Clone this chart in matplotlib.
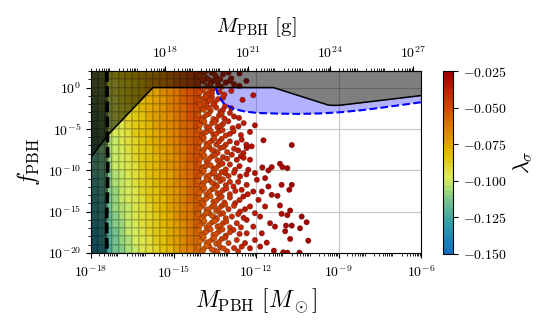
import numpy as np
import matplotlib.pyplot as plt
from matplotlib.colors import LinearSegmentedColormap, Normalize
from matplotlib.ticker import FuncFormatter, LogLocator, NullFormatter, FixedLocator

plt.rcParams['mathtext.fontset'] = 'cm'

# colour scale (lambda_sigma -> colour)
cmap_vals = [-0.150, -0.140, -0.130, -0.125, -0.115, -0.107, -0.100, -0.093, -0.087,
             -0.080, -0.075, -0.065, -0.055, -0.050, -0.040, -0.032, -0.025]
cmap_cols = ['#1470c0', '#1c88b4', '#30a0a8', '#48aaa0', '#70c090', '#a0d878', '#d4ee60',
             '#e0e040', '#e0cc18', '#e0b800', '#e0a400', '#dc8400', '#d46000', '#d04c00',
             '#c42c00', '#b41000', '#a00000']
cbar_ticks = [-0.150, -0.125, -0.100, -0.075, -0.050, -0.025]

# dense part of the cloud: lambda_sigma*1e3 per cell (rows from f=1e2 down to 1e-20)
core_logm_edges = [-18.0, -17.75, -17.5, -17.25, -17.0, -16.75, -16.5, -16.25, -16.0,
                   -15.75, -15.5, -15.25, -15.0, -14.75, -14.5, -14.25, -14.0]
core_logf_edges = [2, 1, 0, -1, -2, -3, -4, -5, -6, -7, -8, -9, -10, -11, -12, -13,
                   -14, -15, -16, -17, -18, -19, -20]
core_lam = [
    [-100, -97, -93, -90, -87, -84, -81, -78, -74, -70, -66, -62, -58, -54, -50, -46],
    [-102, -99, -94, -91, -88, -85, -82, -79, -75, -71, -67, -63, -59, -55, -51, -47],
    [-103, -100, -96, -92, -89, -86, -83, -80, -76, -72, -68, -64, -60, -55, -51, -47],
    [-105, -102, -97, -94, -90, -87, -84, -81, -77, -73, -69, -64, -60, -56, -52, -48],
    [-107, -103, -99, -95, -91, -88, -85, -81, -77, -73, -69, -65, -61, -57, -52, -48],
    [-108, -105, -100, -96, -92, -89, -86, -82, -78, -74, -70, -66, -62, -57, -53, -49],
    [-110, -106, -101, -97, -94, -90, -86, -83, -79, -75, -71, -67, -63, -58, -54, -49],
    [-112, -108, -103, -98, -95, -91, -87, -84, -80, -76, -72, -68, -63, -59, -54, -50],
    [-113, -110, -104, -100, -96, -92, -88, -85, -81, -77, -73, -68, -64, -59, -55, -51],
    [-115, -111, -105, -101, -97, -93, -89, -86, -82, -78, -74, -69, -65, -60, -56, -51],
    [-117, -113, -107, -102, -98, -94, -90, -87, -83, -79, -75, -70, -66, -61, -56, -52],
    [-118, -114, -108, -103, -99, -95, -91, -87, -83, -79, -75, -71, -66, -61, -57, -52],
    [-120, -116, -110, -104, -100, -96, -92, -88, -84, -80, -76, -72, -67, -62, -57, -53],
    [-122, -117, -111, -105, -101, -97, -93, -89, -85, -81, -77, -73, -68, -63, -58, -53],
    [-123, -119, -112, -107, -102, -98, -94, -90, -86, -82, -78, -73, -69, -63, -59, -54],
    [-125, -121, -114, -108, -103, -99, -95, -91, -87, -83, -79, -74, -69, -64, -59, -55],
    [-127, -122, -115, -109, -105, -100, -95, -92, -88, -84, -80, -75, -70, -65, -60, -55],
    [-128, -124, -116, -110, -106, -101, -96, -93, -89, -85, -81, -76, -71, -65, -61, -56],
    [-130, -125, -118, -111, -107, -102, -97, -93, -89, -85, -81, -77, -72, -66, -61, -56],
    [-132, -127, -119, -113, -108, -103, -98, -94, -90, -86, -82, -77, -72, -67, -62, -57],
    [-133, -128, -121, -114, -109, -104, -99, -95, -91, -87, -83, -78, -73, -67, -62, -57],
    [-135, -130, -122, -115, -110, -105, -100, -96, -92, -88, -84, -79, -74, -68, -63, -58],
]

# sparse points on the heavy side: (log10 M, log10 f, lambda_sigma*1e3)
fringe = [
    (-13.95, 1.7, -44), (-13.8, 1.2, -43), (-13.62, 1.8, -41), (-13.45, 1.3, -40), (-13.2, 1.6, -38),
    (-12.9, 1.1, -36), (-12.6, 1.7, -34),
    (-13.9, 0.7, -45), (-13.75, 0.2, -44), (-13.55, 0.8, -42), (-13.38, 0.35, -40), (-13.1, 0.6, -37),
    (-12.8, 0.4, -35), (-12.35, 0.8, -33),
    (-13.95, -0.3, -46), (-13.82, -0.8, -46), (-13.68, -0.45, -44), (-13.55, -0.15, -42), (-13.33, -0.53, -40),
    (-12.9, -0.4, -36), (-12.1, -0.93, -32),
    (-13.9, -1.3, -46), (-13.75, -1.7, -45), (-13.6, -1.2, -43), (-13.5, -1.8, -42), (-13.2, -1.25, -39),
    (-12.49, -1.49, -34),
    (-13.95, -2.5, -47), (-13.8, -2.2, -46), (-13.65, -2.8, -44), (-13.45, -2.4, -42), (-13.3, -2.9, -41),
    (-13.13, -2.26, -39),
    (-13.9, -3.6, -47), (-13.72, -3.2, -45), (-13.55, -3.8, -44), (-13.35, -3.4, -42), (-12.95, -3.07, -38),
    (-12.62, -3.68, -35), (-13.15, -3.75, -40),
    (-13.95, -4.2, -48), (-13.8, -4.7, -47), (-13.6, -4.3, -45), (-13.4, -4.8, -43), (-13.2, -4.4, -41),
    (-13.01, -4.08, -39), (-12.64, -4.69, -36), (-12.04, -4.57, -32), (-12.85, -4.9, -38),
    (-13.9, -5.5, -48), (-13.75, -5.1, -47), (-13.55, -5.7, -45), (-13.35, -5.3, -43), (-13.1, -5.8, -41),
    (-12.82, -5.29, -38), (-12.22, -5.37, -33), (-12.55, -5.75, -36),
    (-13.95, -6.3, -49), (-13.8, -6.8, -48), (-13.6, -6.4, -46), (-13.45, -6.9, -44), (-13.25, -6.2, -42),
    (-12.95, -6.5, -39), (-12.7, -6.71, -37), (-12.52, -6.3, -35), (-11.73, -6.38, -31), (-10.7, -6.95, -28),
    (-13.9, -7.5, -49), (-13.7, -7.2, -47), (-13.5, -7.7, -45), (-13.3, -7.3, -43), (-13.05, -7.8, -41),
    (-12.8, -7.4, -38), (-12.46, -7.92, -35), (-12.34, -7.31, -34), (-12.16, -7.11, -33),
    (-13.95, -8.4, -50), (-13.8, -8.9, -49), (-13.6, -8.3, -47), (-13.4, -8.8, -45), (-13.2, -8.4, -43),
    (-12.88, -8.12, -39), (-12.7, -8.73, -37), (-12.22, -8.73, -34), (-12.55, -8.3, -36),
    (-13.9, -9.6, -50), (-13.75, -9.2, -49), (-13.55, -9.8, -47), (-13.35, -9.4, -45), (-13.1, -9.9, -42),
    (-12.95, -9.3, -40), (-12.76, -9.94, -38), (-12.28, -9.94, -34), (-11.77, -9.66, -31), (-11.43, -9.62, -30),
    (-11.13, -9.21, -29), (-11.04, -9.62, -29), (-10.86, -9.74, -28),
    (-13.95, -10.3, -51), (-13.8, -10.8, -50), (-13.6, -10.4, -48), (-13.45, -10.9, -46), (-13.25, -10.2, -44),
    (-13.0, -10.7, -41), (-12.8, -10.3, -39), (-12.58, -10.75, -37), (-12.04, -10.34, -33), (-11.55, -10.02, -30),
    (-11.67, -10.95, -31),
    (-13.9, -11.5, -51), (-13.7, -11.2, -49), (-13.5, -11.7, -47), (-13.3, -11.3, -45), (-13.1, -11.8, -43),
    (-12.82, -11.96, -39), (-12.65, -11.4, -38), (-12.34, -11.76, -35), (-11.97, -11.15, -33), (-11.55, -11.96, -30),
    (-11.07, -11.76, -29), (-10.7, -11.76, -28),
    (-13.95, -12.4, -52), (-13.8, -12.9, -51), (-13.6, -12.3, -49), (-13.4, -12.8, -47), (-13.2, -12.4, -45),
    (-12.95, -12.9, -42), (-12.75, -12.5, -40), (-12.52, -12.36, -37), (-12.1, -12.57, -34), (-11.79, -12.57, -32),
    (-10.79, -12.36, -28), (-11.43, -12.97, -30),
    (-13.9, -13.6, -52), (-13.75, -13.2, -51), (-13.55, -13.8, -49), (-13.35, -13.4, -47), (-13.15, -13.9, -45),
    (-12.95, -13.3, -43), (-12.76, -13.98, -40), (-12.46, -13.17, -37), (-11.91, -13.58, -33), (-11.22, -13.09, -30),
    (-13.95, -14.3, -53), (-13.8, -14.8, -52), (-13.6, -14.4, -50), (-13.45, -14.9, -48), (-13.25, -14.3, -46),
    (-13.0, -14.7, -43), (-12.8, -14.3, -41), (-12.58, -14.99, -38), (-12.22, -14.38, -35), (-11.67, -14.38, -32),
    (-11.13, -14.26, -30), (-10.76, -14.87, -28),
    (-13.9, -15.5, -53), (-13.7, -15.2, -51), (-13.5, -15.7, -49), (-13.3, -15.3, -47), (-13.1, -15.8, -45),
    (-12.88, -15.6, -42), (-12.65, -15.3, -40), (-12.04, -15.19, -35), (-11.85, -15.6, -33), (-11.07, -15.27, -30),
    (-10.86, -15.43, -29), (-10.34, -15.6, -28),
    (-13.95, -16.4, -54), (-13.8, -16.9, -53), (-13.6, -16.3, -51), (-13.4, -16.8, -49), (-13.2, -16.4, -47),
    (-12.95, -16.9, -44), (-12.7, -16.4, -41), (-12.34, -16.0, -37), (-12.1, -16.81, -36), (-11.49, -16.4, -32),
    (-11.31, -16.81, -31), (-10.91, -16.69, -29), (-10.7, -16.69, -28), (-10.16, -16.28, -27),
    (-13.9, -17.6, -54), (-13.75, -17.2, -53), (-13.55, -17.8, -51), (-13.35, -17.4, -49), (-13.1, -17.9, -46),
    (-12.82, -17.21, -42), (-12.6, -17.7, -40), (-12.34, -17.62, -38), (-11.79, -17.62, -33), (-10.94, -17.37, -29),
    (-10.4, -17.01, -28),
    (-13.95, -18.3, -55), (-13.8, -18.8, -54), (-13.6, -18.4, -52), (-13.45, -18.9, -50), (-13.25, -18.3, -48),
    (-13.0, -18.8, -45), (-12.7, -18.43, -41), (-12.04, -18.43, -35), (-11.61, -18.75, -32), (-10.76, -18.3, -28),
    (-10.1, -18.51, -27),
    (-13.9, -19.5, -55), (-13.7, -19.2, -53), (-13.5, -19.7, -51), (-13.3, -19.3, -49), (-13.05, -19.8, -46),
    (-12.8, -19.4, -43), (-12.52, -19.23, -39), (-12.22, -19.43, -37), (-11.85, -19.23, -34), (-11.35, -19.72, -31),
    (-11.01, -19.92, -29), (-10.86, -19.96, -29), (-10.42, -19.96, -28),
]

# further points packed just right of the dense block
fringe_inner = [
    (-14.05, 1.4, -47), (-13.85, 1.9, -45), (-13.7, 0.95, -43), (-13.5, 1.55, -41), (-13.3, 1.0, -39), (-13.0, 1.8, -37),
    (-14.1, 0.3, -48), (-13.95, 0.95, -46), (-13.65, 0.45, -43), (-13.47, 0.9, -41), (-13.25, 0.1, -39),
    (-12.95, 0.8, -36), (-12.6, 0.2, -34),
    (-14.05, -0.6, -48), (-13.88, -0.1, -47), (-13.75, -0.95, -45), (-13.6, -0.7, -43), (-13.15, -0.85, -38),
    (-14.08, -1.5, -49), (-13.93, -1.9, -47), (-13.83, -1.1, -46), (-13.68, -1.55, -44), (-13.38, -1.4, -41),
    (-14.05, -2.1, -49), (-13.9, -2.7, -48), (-13.72, -2.45, -45), (-13.55, -2.1, -43), (-13.2, -2.7, -40),
    (-12.9, -2.5, -37),
    (-14.1, -3.3, -50), (-13.95, -3.9, -48), (-13.8, -3.3, -46), (-13.45, -3.95, -43), (-13.25, -3.2, -41),
    (-12.8, -3.5, -37),
    (-14.05, -4.6, -50), (-13.88, -4.1, -48), (-13.7, -4.85, -46), (-13.5, -4.2, -44), (-13.3, -4.65, -42),
    (-12.45, -4.3, -35),
    (-14.08, -5.2, -51), (-13.95, -5.85, -49), (-13.82, -5.4, -48), (-13.65, -5.25, -46), (-13.45, -5.6, -44),
    (-13.22, -5.15, -42), (-12.95, -5.6, -39),
    (-14.05, -6.6, -51), (-13.9, -6.1, -49), (-13.7, -6.7, -47), (-13.52, -6.15, -45), (-13.35, -6.55, -43),
    (-13.1, -6.9, -41), (-12.35, -6.9, -34),
    (-14.1, -7.3, -52), (-13.95, -7.9, -50), (-13.8, -7.1, -48), (-13.6, -7.55, -46), (-13.4, -7.9, -44),
    (-13.18, -7.2, -42), (-12.65, -7.6, -37),
    (-14.05, -8.7, -52), (-13.88, -8.2, -50), (-13.7, -8.6, -48), (-13.5, -8.2, -46), (-13.3, -8.9, -44),
    (-13.05, -8.6, -41), (-12.45, -8.5, -35),
    (-14.08, -9.3, -53), (-13.95, -9.9, -51), (-13.82, -9.5, -49), (-13.65, -9.4, -48), (-13.45, -9.75, -46),
    (-13.22, -9.2, -43), (-12.6, -9.5, -37),
    (-14.05, -10.6, -53), (-13.9, -10.1, -51), (-13.72, -10.65, -49), (-13.52, -10.3, -47), (-13.35, -10.7, -45),
    (-13.12, -10.35, -42), (-12.35, -10.5, -35),
    (-14.1, -11.3, -54), (-13.95, -11.85, -52), (-13.8, -11.15, -50), (-13.6, -11.5, -48), (-13.42, -11.9, -46),
    (-13.2, -11.1, -44), (-12.95, -11.4, -41),
    (-14.05, -12.7, -54), (-13.88, -12.15, -52), (-13.7, -12.6, -50), (-13.5, -12.2, -48), (-13.3, -12.75, -46),
    (-13.08, -12.2, -43), (-12.3, -12.9, -35),
    (-14.08, -13.35, -55), (-13.95, -13.9, -53), (-13.82, -13.45, -51), (-13.65, -13.15, -50), (-13.45, -13.7, -48),
    (-13.25, -13.2, -46), (-12.6, -13.6, -39),
    (-14.05, -14.6, -55), (-13.9, -14.1, -53), (-13.72, -14.7, -51), (-13.52, -14.25, -49), (-13.35, -14.65, -47),
    (-13.12, -14.15, -44), (-12.4, -14.7, -36),
    (-14.1, -15.3, -56), (-13.95, -15.85, -54), (-13.8, -15.15, -52), (-13.6, -15.5, -50), (-13.42, -15.9, -48),
    (-13.2, -15.2, -46), (-12.45, -15.75, -37),
    (-14.05, -16.7, -56), (-13.88, -16.15, -54), (-13.7, -16.6, -52), (-13.5, -16.15, -50), (-13.3, -16.7, -48),
    (-13.08, -16.2, -45), (-12.55, -16.9, -39),
    (-14.08, -17.3, -57), (-13.95, -17.85, -55), (-13.82, -17.45, -53), (-13.65, -17.15, -52), (-13.45, -17.7, -50),
    (-13.22, -17.15, -47), (-12.95, -17.5, -44),
    (-14.05, -18.6, -57), (-13.9, -18.1, -55), (-13.72, -18.65, -53), (-13.52, -18.2, -51), (-13.35, -18.7, -49),
    (-13.12, -18.15, -46), (-12.4, -18.8, -37),
    (-14.1, -19.3, -58), (-13.95, -19.85, -56), (-13.8, -19.15, -54), (-13.6, -19.6, -52), (-13.4, -19.9, -50),
    (-13.18, -19.45, -47), (-12.65, -19.8, -41),
]

# constraint curves (log10 M, log10 f)
bound_logm = [-18.0, -17.38, -15.75, -11.37, -9.37, -9.15, -8.95, -6.0]
bound_logf = [-8.4, -5.7, 0.0, 0.0, -2.12, -2.16, -2.14, -0.97]
blue_logm = [-13.45, -13.42, -13.37, -13.19, -12.82, -12.4, -11.97, -11.2, -10.4, -9.6, -8.95, -8.2, -7.49, -6.0]
blue_logf = [0.0, -0.5, -0.97, -1.86, -2.59, -2.9, -3.07, -3.15, -3.19, -3.12, -2.99, -2.75, -2.46, -1.78]
dash_logm = [-17.42, -17.41, -17.39, -17.40, -17.43, -17.42]
dash_logf = [2.0, -4.0, -9.0, -12.0, -16.0, -20.0]

MSUN_G = 1.989e33

pos = [(v - cmap_vals[0]) / (cmap_vals[-1] - cmap_vals[0]) for v in cmap_vals]
cmap = LinearSegmentedColormap.from_list('lam', list(zip(pos, cmap_cols)), N=40)
norm = Normalize(vmin=-0.150, vmax=-0.025)

fig = plt.figure(figsize=(5.48, 3.29), dpi=100)
ax = fig.add_axes([0.1661, 0.231, 0.6022, 0.5532])
cax = fig.add_axes([0.8084, 0.228, 0.0182, 0.556])

ax.set_xscale('log')
ax.set_yscale('log')
ax.grid(True, which='major', color='#c8c8c8', lw=0.8, zorder=0)
ax.set_axisbelow(True)

mesh = ax.pcolormesh(10.0**np.array(core_logm_edges), 10.0**np.array(core_logf_edges),
                     np.array(core_lam) / 1000.0, cmap=cmap, norm=norm,
                     edgecolors=(0, 0, 0, 0.13), linewidth=0.3, zorder=1)

fr = np.array(fringe + fringe_inner)
ax.scatter(10.0**fr[:, 0], 10.0**fr[:, 1], c=fr[:, 2] / 1000.0, cmap=cmap, norm=norm,
           s=16, edgecolors=(0, 0, 0, 0.45), linewidths=0.3, zorder=2)

# blue region between the dashed blue curve and the black curve
bm = np.array(bound_logm)
bf = np.array(bound_logf)
keep = bm > blue_logm[0]
top_start = np.interp(blue_logm[0], bm, bf)
poly_m = list(blue_logm) + list(bm[keep][::-1]) + [blue_logm[0]]
poly_f = list(blue_logf) + list(bf[keep][::-1]) + [top_start]
ax.fill(10.0**np.array(poly_m), 10.0**np.array(poly_f), color='blue', alpha=0.3, lw=0, zorder=1.5)
ax.plot(10.0**np.array(blue_logm), 10.0**np.array(blue_logf), color='blue', ls='--', lw=1.5, zorder=4)

# excluded regions
ax.fill_between(10.0**bm, 10.0**bf, 1e3, color='k', alpha=0.5, lw=0, zorder=3)
ax.plot(10.0**bm, 10.0**bf, color='k', lw=1.1, zorder=4)
ax.fill_betweenx(10.0**np.array(dash_logf), 1e-18, 10.0**np.array(dash_logm),
                 color='k', alpha=0.5, lw=0, zorder=3)
ax.plot(10.0**np.array(dash_logm), 10.0**np.array(dash_logf), color='k', lw=2.6,
        ls=(0, (3, 1.2)), zorder=4)

ax.set_xlim(1e-18, 1e-6)
ax.set_ylim(1e-20, 1e2)

pow_fmt = FuncFormatter(lambda v, p: r'$10^{%d}$' % int(round(np.log10(v))))
ax.xaxis.set_major_locator(FixedLocator([1e-18, 1e-15, 1e-12, 1e-9, 1e-6]))
ax.xaxis.set_minor_locator(LogLocator(base=10, subs=np.arange(2, 10), numticks=100))
ax.xaxis.set_major_formatter(pow_fmt)
ax.xaxis.set_minor_formatter(NullFormatter())
ax.yaxis.set_major_locator(FixedLocator([1e-20, 1e-15, 1e-10, 1e-5, 1e0]))
ax.yaxis.set_minor_locator(LogLocator(base=10, subs=(1.0,), numticks=100))
ax.yaxis.set_major_formatter(pow_fmt)
ax.yaxis.set_minor_formatter(NullFormatter())
ax.tick_params(which='major', labelsize=10, length=3.5)
ax.tick_params(axis='x', which='major', pad=5)
ax.tick_params(which='minor', length=2)

ax.set_xlabel(r'$M_{\rm PBH}\ [M_\odot]$', fontsize=17)
ax.set_ylabel(r'$f_{\rm PBH}$', fontsize=17)

secax = ax.secondary_xaxis('top', functions=(lambda m: m * MSUN_G, lambda g: g / MSUN_G))
secax.xaxis.set_major_locator(FixedLocator([1e18, 1e21, 1e24, 1e27]))
secax.xaxis.set_minor_locator(LogLocator(base=10, subs=np.arange(2, 10), numticks=100))
secax.xaxis.set_major_formatter(pow_fmt)
secax.xaxis.set_minor_formatter(NullFormatter())
secax.tick_params(which='major', labelsize=10, length=3.5)
secax.tick_params(which='minor', length=2)
secax.set_xlabel(r'$M_{\rm PBH}\ [{\rm g}]$', fontsize=15, labelpad=10)

cb = fig.colorbar(mesh, cax=cax, ticks=cbar_ticks)
cb.ax.yaxis.set_major_formatter(FuncFormatter(lambda v, p: r'$%.3f$' % v))
cb.ax.tick_params(labelsize=10, length=3.5)
cb.set_label(r'$\lambda_\sigma$', fontsize=16)

fig.savefig('out.png', dpi=100)
